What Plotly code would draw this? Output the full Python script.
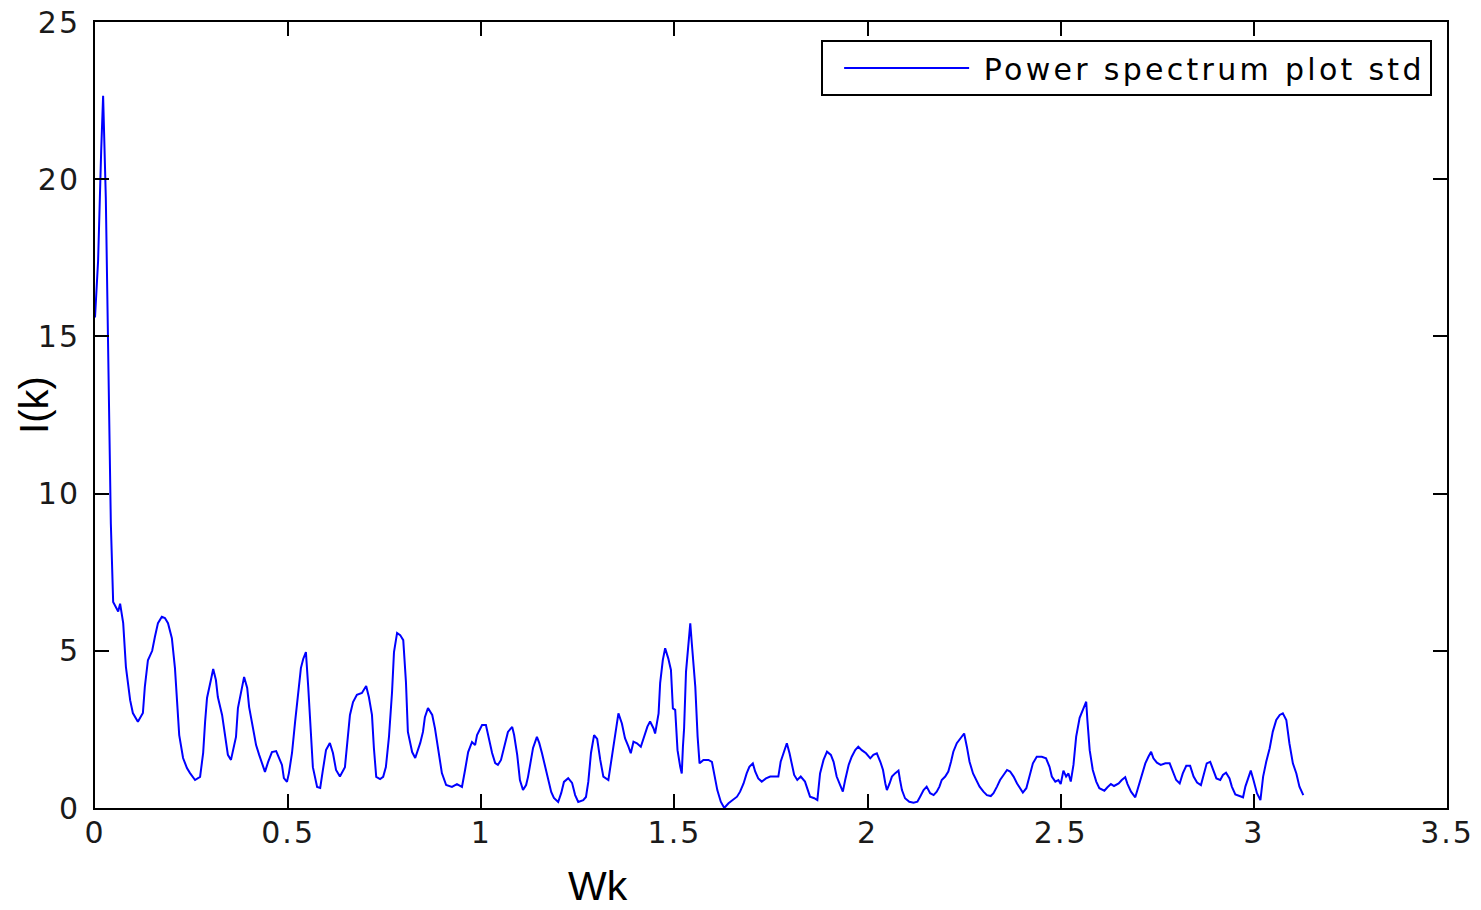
import plotly.graph_objects as go

# Frequency Wk and power spectrum I(k)
wk = [0.000, 0.008, 0.016, 0.021, 0.028, 0.034, 0.041, 0.047, 0.054, 0.060, 0.065, 0.073, 0.080, 0.091, 0.098,
      0.111, 0.124, 0.129, 0.137, 0.148, 0.155, 0.163, 0.173, 0.181, 0.189, 0.199, 0.207, 0.212, 0.218, 0.228,
      0.238, 0.246, 0.259, 0.272, 0.280, 0.285, 0.290, 0.300, 0.306, 0.313, 0.318, 0.329, 0.337, 0.344, 0.352,
      0.357, 0.365, 0.370, 0.381, 0.386, 0.394, 0.399, 0.409, 0.417, 0.425, 0.435, 0.440, 0.448, 0.458, 0.469,
      0.476, 0.484, 0.489, 0.497, 0.502, 0.510, 0.518, 0.526, 0.533, 0.539, 0.546, 0.552, 0.559, 0.564, 0.575,
      0.583, 0.590, 0.598, 0.608, 0.616, 0.624, 0.634, 0.647, 0.653, 0.660, 0.668, 0.678, 0.691, 0.702, 0.709,
      0.717, 0.722, 0.728, 0.738, 0.746, 0.753, 0.761, 0.769, 0.774, 0.782, 0.790, 0.798, 0.805, 0.810, 0.821,
      0.829, 0.834, 0.842, 0.849, 0.854, 0.862, 0.873, 0.880, 0.888, 0.898, 0.909, 0.924, 0.937, 0.950, 0.958,
      0.966, 0.976, 0.984, 0.989, 1.002, 1.012, 1.018, 1.028, 1.036, 1.043, 1.051, 1.056, 1.064, 1.069, 1.080,
      1.085, 1.093, 1.100, 1.108, 1.116, 1.121, 1.129, 1.134, 1.144, 1.150, 1.157, 1.165, 1.173, 1.181, 1.188,
      1.199, 1.207, 1.214, 1.225, 1.235, 1.243, 1.251, 1.264, 1.271, 1.277, 1.284, 1.292, 1.300, 1.308, 1.316,
      1.329, 1.338, 1.346, 1.355, 1.364, 1.372, 1.381, 1.387, 1.394, 1.403, 1.413, 1.422, 1.430, 1.437, 1.446,
      1.450, 1.459, 1.463, 1.470, 1.476, 1.484, 1.491, 1.496, 1.502, 1.508, 1.515, 1.519, 1.522, 1.525, 1.530,
      1.536, 1.541, 1.545, 1.554, 1.560, 1.565, 1.575, 1.588, 1.597, 1.603, 1.611, 1.620, 1.629, 1.640, 1.651,
      1.662, 1.670, 1.679, 1.687, 1.694, 1.703, 1.709, 1.717, 1.726, 1.737, 1.748, 1.761, 1.769, 1.775, 1.784,
      1.791, 1.798, 1.804, 1.810, 1.818, 1.827, 1.838, 1.844, 1.851, 1.862, 1.870, 1.877, 1.886, 1.895, 1.905,
      1.912, 1.920, 1.929, 1.936, 1.942, 1.951, 1.959, 1.968, 1.976, 1.985, 1.996, 2.007, 2.015, 2.024, 2.033,
      2.040, 2.046, 2.050, 2.057, 2.063, 2.071, 2.080, 2.084, 2.089, 2.097, 2.108, 2.119, 2.129, 2.136, 2.145,
      2.153, 2.162, 2.171, 2.179, 2.186, 2.192, 2.201, 2.209, 2.216, 2.222, 2.231, 2.240, 2.250, 2.257, 2.264,
      2.273, 2.281, 2.290, 2.300, 2.309, 2.319, 2.326, 2.335, 2.343, 2.352, 2.361, 2.369, 2.378, 2.387, 2.395,
      2.402, 2.411, 2.419, 2.428, 2.438, 2.451, 2.462, 2.471, 2.477, 2.486, 2.494, 2.500, 2.507, 2.514, 2.520,
      2.526, 2.533, 2.540, 2.549, 2.557, 2.566, 2.569, 2.575, 2.583, 2.592, 2.600, 2.613, 2.621, 2.630, 2.638,
      2.650, 2.658, 2.667, 2.673, 2.682, 2.693, 2.701, 2.710, 2.719, 2.727, 2.734, 2.740, 2.749, 2.759, 2.771,
      2.782, 2.790, 2.799, 2.808, 2.816, 2.825, 2.835, 2.844, 2.853, 2.863, 2.872, 2.878, 2.887, 2.894, 2.903,
      2.913, 2.920, 2.928, 2.937, 2.943, 2.952, 2.963, 2.972, 2.978, 2.986, 2.992, 2.999, 3.008, 3.017, 3.024,
      3.032, 3.041, 3.049, 3.058, 3.067, 3.075, 3.084, 3.092, 3.101, 3.110, 3.118, 3.128]

ik = [15.6, 17.4, 20.9, 22.65, 19.4, 13.9, 9.05, 6.55, 6.4, 6.25, 6.5, 5.88, 4.49, 3.43, 3.02,
      2.74, 3.02, 3.85, 4.7, 5.0, 5.44, 5.88, 6.08, 6.04, 5.88, 5.4, 4.45, 3.28, 2.32, 1.59,
      1.27, 1.11, 0.89, 0.99, 1.75, 2.74, 3.5, 4.07, 4.42, 4.07, 3.53, 2.96, 2.26, 1.69, 1.53,
      1.78, 2.26, 3.18, 3.91, 4.17, 3.82, 3.21, 2.54, 2.0, 1.69, 1.37, 1.15, 1.46, 1.78, 1.81,
      1.62, 1.37, 0.95, 0.83, 1.11, 1.75, 2.74, 3.75, 4.45, 4.74, 4.96, 3.85, 2.26, 1.3, 0.67,
      0.64, 1.21, 1.84, 2.07, 1.75, 1.21, 1.0, 1.3, 2.1, 2.96, 3.37, 3.6, 3.66, 3.88, 3.53,
      2.96, 1.91, 0.99, 0.92, 0.99, 1.3, 2.26, 3.69, 4.96, 5.57, 5.5, 5.34, 4.0, 2.42, 1.78,
      1.59, 1.75, 2.07, 2.42, 2.89, 3.18, 2.96, 2.54, 1.84, 1.11, 0.73, 0.67, 0.76, 0.67, 1.21,
      1.78, 2.1, 2.0, 2.32, 2.64, 2.64, 2.26, 1.75, 1.43, 1.37, 1.53, 1.78, 2.23, 2.42, 2.58,
      2.32, 1.69, 0.89, 0.57, 0.73, 0.99, 1.53, 1.91, 2.26, 2.07, 1.75, 1.3, 0.89, 0.51, 0.32,
      0.19, 0.48, 0.83, 0.95, 0.8, 0.41, 0.19, 0.25, 0.35, 0.83, 1.75, 2.32, 2.2, 1.53, 1.0,
      0.89, 1.63, 2.43, 3.01, 2.69, 2.22, 1.95, 1.74, 2.11, 2.06, 1.95, 2.27, 2.59, 2.75, 2.53,
      2.37, 3.01, 3.97, 4.71, 5.08, 4.76, 4.39, 3.17, 3.12, 1.84, 1.31, 1.1, 1.95, 2.53, 4.34,
      5.34, 5.87, 5.24, 3.86, 2.27, 1.42, 1.53, 1.53, 1.47, 1.1, 0.57, 0.2, 0.0, 0.15, 0.25,
      0.36, 0.52, 0.78, 1.1, 1.31, 1.42, 1.16, 0.94, 0.84, 0.94, 1.0, 1.0, 1.0, 1.47, 1.84,
      2.06, 1.74, 1.42, 1.05, 0.89, 1.0, 0.84, 0.63, 0.36, 0.31, 0.25, 1.1, 1.53, 1.79, 1.69,
      1.47, 1.0, 0.73, 0.52, 0.89, 1.37, 1.63, 1.84, 1.95, 1.84, 1.74, 1.58, 1.69, 1.74, 1.47,
      1.21, 0.78, 0.57, 0.78, 1.0, 1.1, 1.19, 0.89, 0.57, 0.31, 0.2, 0.17, 0.2, 0.36, 0.57,
      0.68, 0.47, 0.41, 0.52, 0.68, 0.89, 1.0, 1.16, 1.47, 1.79, 2.06, 2.22, 2.37, 1.95, 1.47,
      1.1, 0.89, 0.68, 0.52, 0.41, 0.38, 0.47, 0.68, 0.89, 1.05, 1.21, 1.16, 1.0, 0.78, 0.63,
      0.49, 0.63, 1.0, 1.42, 1.63, 1.63, 1.58, 1.31, 1.0, 0.84, 0.89, 0.76, 1.19, 1.0, 1.1,
      0.84, 1.37, 2.27, 2.87, 3.12, 3.38, 2.8, 1.84, 1.21, 0.84, 0.63, 0.55, 0.66, 0.76, 0.7,
      0.78, 0.89, 0.98, 0.76, 0.52, 0.34, 0.68, 1.1, 1.42, 1.63, 1.79, 1.58, 1.44, 1.37, 1.42,
      1.42, 1.16, 0.89, 0.78, 1.1, 1.34, 1.34, 1.0, 0.81, 0.73, 1.1, 1.42, 1.47, 1.21, 0.94,
      0.89, 1.05, 1.12, 0.94, 0.68, 0.43, 0.38, 0.34, 0.68, 1.0, 1.19, 0.89, 0.47, 0.25, 1.0,
      1.47, 1.9, 2.43, 2.8, 2.96, 3.01, 2.8, 2.06, 1.42, 1.1, 0.68, 0.41]

x_ticks = [0, 0.5, 1, 1.5, 2, 2.5, 3, 3.5]
x_tick_labels = ["0", "0.5", "1", "1.5", "2", "2.5", "3", "3.5"]
y_ticks = [0, 5, 10, 15, 20, 25]
y_tick_labels = ["0", "5", "10", "15", "20", "25"]
x_title = "Wk"
y_title = "I(k)"
series_name = "Power spectrum plot std"

TICK_FONT = "DejaVu Sans, Verdana, sans-serif"
TITLE_FONT = "Liberation Sans, Arial, sans-serif"


def spaced(s, px, lead=""):
    return f'{lead}<span style="letter-spacing:{px}px">{s}</span>'


fig = go.Figure()
fig.add_trace(go.Scatter(
    x=wk, y=ik, mode="lines", name=spaced(series_name, 3.3, lead="&nbsp;"),
    line=dict(color="#0000FF", width=2),
))

axis_common = dict(
    showgrid=False, zeroline=False, showline=True, linecolor="black", linewidth=2,
    mirror="ticks", ticks="inside", ticklen=14, tickwidth=2, tickcolor="black",
    tickfont=dict(family=TICK_FONT, size=30, color="#1a1a1a"),
    automargin=False,
)

fig.update_layout(
    width=1481, height=910,
    paper_bgcolor="white", plot_bgcolor="white",
    margin=dict(l=95, r=34, t=22, b=102),
    font=dict(family=TICK_FONT, color="black"),
    xaxis=dict(range=[0, 3.5], tickvals=x_ticks,
               ticktext=[spaced(t, 2) for t in x_tick_labels],
               ticklabelstandoff=-3, **axis_common),
    yaxis=dict(range=[0, 25], tickvals=y_ticks,
               ticktext=[spaced(t, 2) for t in y_tick_labels],
               ticklabelstandoff=7, **axis_common),
    showlegend=True,
    legend=dict(x=0.989, y=0.977, xanchor="right", yanchor="top",
                bgcolor="white", bordercolor="black", borderwidth=2,
                font=dict(family=TICK_FONT, size=30, color="black"),
                itemwidth=125, indentation=16),
    annotations=[
        dict(text=x_title, xref="paper", yref="paper", x=0.372, y=-0.099,
             xanchor="center", yanchor="middle", showarrow=False,
             font=dict(family=TITLE_FONT, size=41, color="black")),
        dict(text=y_title, xref="paper", yref="paper", x=-0.045, y=0.513,
             xanchor="center", yanchor="middle", showarrow=False, textangle=-90,
             font=dict(family=TITLE_FONT, size=40, color="black")),
    ],
)

fig.write_html("out.html", config={"displayModeBar": False},
               post_script="document.body.style.margin='0px';")
